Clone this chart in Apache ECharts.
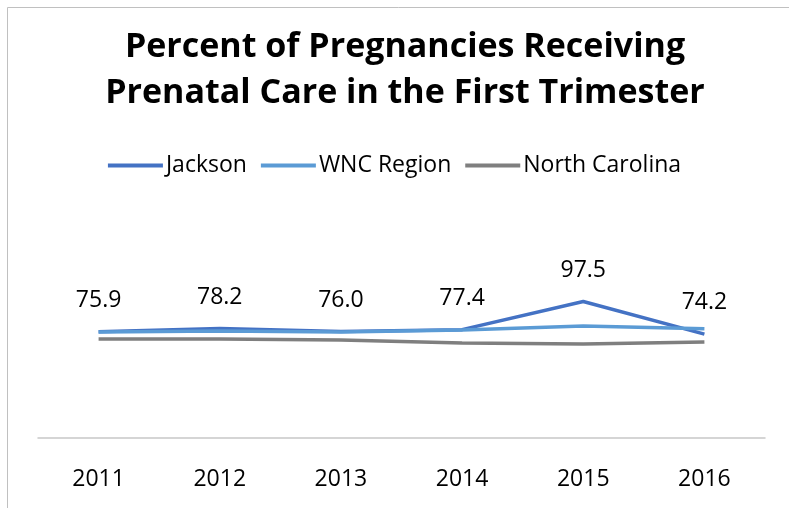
<!DOCTYPE html>
<html>
<head>
<meta charset="utf-8">
<script src="https://cdn.jsdelivr.net/npm/echarts@6/dist/echarts.min.js"></script>
<style>
  html, body { margin: 0; padding: 0; background: #fff; }
  #main { width: 789px; height: 508px; }
</style>
</head>
<body>
<div id="main"></div>
<script>
var years = ['2011', '2012', '2013', '2014', '2015', '2016'];
var jackson = [75.9, 78.2, 76.0, 77.4, 97.5, 74.2];
var wncRegion = [75.7, 76.4, 75.7, 77.1, 80.0, 78.1];
var northCarolina = [70.7, 70.7, 70.0, 67.9, 67.1, 68.6];

var font = '"Open Sans", "Noto Sans", sans-serif';

var myChart = echarts.init(document.getElementById('main'));

var option = {
  backgroundColor: '#fff',
  animation: false,
  title: {
    text: 'Percent of Pregnancies Receiving\nPrenatal Care in the First Trimester',
    left: 400,
    textAlign: 'center',
    top: 19,
    textStyle: {
      fontFamily: font,
      fontWeight: 'bold',
      fontSize: 34,
      lineHeight: 46,
      color: '#000'
    }
  },
  legend: {
    top: 149,
    left: 'center',
    itemWidth: 55,
    itemHeight: 4,
    itemGap: 14,
    icon: 'rect',
    textStyle: { fontFamily: font, fontSize: 23, color: '#000', padding: [0, 0, 0, -2] },
    data: ['Jackson', 'WNC Region', 'North Carolina']
  },
  graphic: [{
    type: 'rect',
    shape: { x: 7.5, y: 7.5, width: 820, height: 540 },
    style: { fill: 'none', stroke: '#c0c0c0', lineWidth: 1 },
    silent: true
  }],
  grid: { left: 38, right: 24, top: 186, bottom: 70 },
  xAxis: {
    type: 'category',
    data: years,
    boundaryGap: true,
    axisLine: { lineStyle: { color: '#c8c8c8', width: 1.5 } },
    axisTick: { show: false },
    axisLabel: { fontFamily: font, fontSize: 23, color: '#000', margin: 30 }
  },
  yAxis: {
    type: 'value',
    min: 0,
    max: 180,
    show: false,
    splitLine: { show: false }
  },
  series: [
    {
      name: 'Jackson',
      type: 'line',
      data: jackson,
      symbol: 'circle',
      symbolSize: 0,
      color: '#4472C4',
      lineStyle: { width: 3.5 },
      z: 3,
      label: {
        show: true,
        position: 'top',
        distance: 20,
        formatter: function (p) { return p.value.toFixed(1); },
        fontFamily: font,
        fontSize: 23,
        color: '#000'
      }
    },
    {
      name: 'WNC Region',
      type: 'line',
      data: wncRegion,
      symbol: 'none',
      color: '#5B9BD5',
      lineStyle: { width: 3.5 },
      z: 4
    },
    {
      name: 'North Carolina',
      type: 'line',
      data: northCarolina,
      symbol: 'none',
      color: '#7F7F7F',
      lineStyle: { width: 3.5 },
      z: 2
    }
  ]
};

myChart.setOption(option);
</script>
</body>
</html>
